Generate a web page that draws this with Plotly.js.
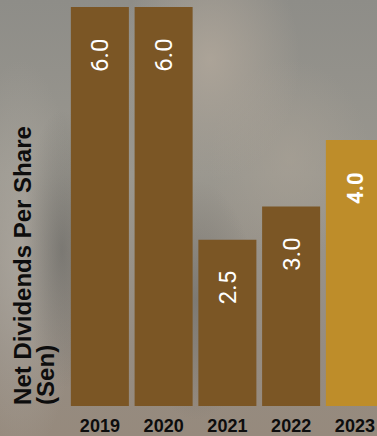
<!DOCTYPE html>
<html>
<head>
<meta charset="utf-8">
<script src="https://cdn.plot.ly/plotly-3.0.1.min.js"></script>
<style>
html, body { margin: 0; padding: 0; width: 377px; height: 436px; overflow: hidden; }
body {
  background:
    radial-gradient(ellipse 40px 140px at 62px 250px, rgba(95,95,92,0.55), rgba(95,95,92,0) 100%),
    radial-gradient(ellipse 60px 120px at 196px 300px, rgba(100,100,97,0.5), rgba(100,100,97,0) 100%),
    radial-gradient(ellipse 90px 120px at 210px 60px, rgba(178,168,155,0.8), rgba(178,168,155,0) 100%),
    radial-gradient(ellipse 80px 100px at 290px 160px, rgba(170,162,150,0.6), rgba(170,162,150,0) 100%),
    radial-gradient(ellipse 60px 200px at 20px 260px, rgba(175,170,162,0.7), rgba(175,170,162,0) 100%),
    linear-gradient(to bottom, #8e8d88 0%, #9a978f 40%, #958c82 80%, #968a7d 100%);
}
#chart { width: 377px; height: 436px; }
</style>
</head>
<body>
<div id="chart"></div>
<script>
var years = ['2019', '2020', '2021', '2022', '2023'];
var dividends = [6.0, 6.0, 2.5, 3.0, 4.0];
var labels = ['6.0', '6.0', '2.5', '3.0', '4.0'];
var barColors = ['#7b5625', '#7b5625', '#7b5625', '#7b5625', '#be8d2a'];
var labelBold = [false, false, false, false, true];
var titleLines = ['Net Dividends Per Share', '(Sen)'];

var trace = {
  type: 'bar',
  x: years,
  y: dividends,
  marker: { color: barColors },
  hoverinfo: 'none'
};

var annotations = years.map(function (yr, i) {
  return {
    x: i, y: dividends[i], xref: 'x', yref: 'y',
    text: labelBold[i] ? '<b>' + labels[i] + '</b>' : labels[i],
    showarrow: false, textangle: -90,
    xanchor: 'center', yanchor: 'middle',
    yshift: -48,
    font: { family: 'Roboto, Arial, sans-serif', size: labelBold[i] ? 22 : 24, color: '#ffffff' }
  };
});

annotations.push({
  x: 0, y: 0.351, xref: 'paper', yref: 'paper', xshift: -45,
  text: '<b>' + titleLines[0] + '</b>', showarrow: false, textangle: -90,
  xanchor: 'center', yanchor: 'middle',
  font: { family: 'Liberation Sans, Arial, sans-serif', size: 24, color: '#0d0d0d' }
});
annotations.push({
  x: 0, y: 0.078, xref: 'paper', yref: 'paper', xshift: -22,
  text: '<b>' + titleLines[1] + '</b>', showarrow: false, textangle: -90,
  xanchor: 'center', yanchor: 'middle',
  font: { family: 'Liberation Sans, Arial, sans-serif', size: 24, color: '#0d0d0d' }
});

var layout = {
  width: 377, height: 436,
  margin: { l: 68, r: 0, t: 7, b: 30, pad: 0 },
  paper_bgcolor: 'rgba(0,0,0,0)',
  plot_bgcolor: 'rgba(0,0,0,0)',
  bargap: 0.09,
  showlegend: false,
  xaxis: {
    type: 'category',
    range: [-0.5, 4.347],
    showgrid: false, zeroline: false, showline: false, ticks: '',
    ticklabelstandoff: 7,
    tickfont: { family: 'Liberation Sans, Arial, sans-serif', size: 18, color: '#0d0d0d', weight: 'bold' },
    fixedrange: true
  },
  yaxis: {
    range: [0, 6],
    showgrid: false, zeroline: false, showline: false, ticks: '',
    showticklabels: false,
    fixedrange: true
  },
  annotations: annotations
};

Plotly.newPlot('chart', [trace], layout, { displayModeBar: false, staticPlot: true });
</script>
</body>
</html>
